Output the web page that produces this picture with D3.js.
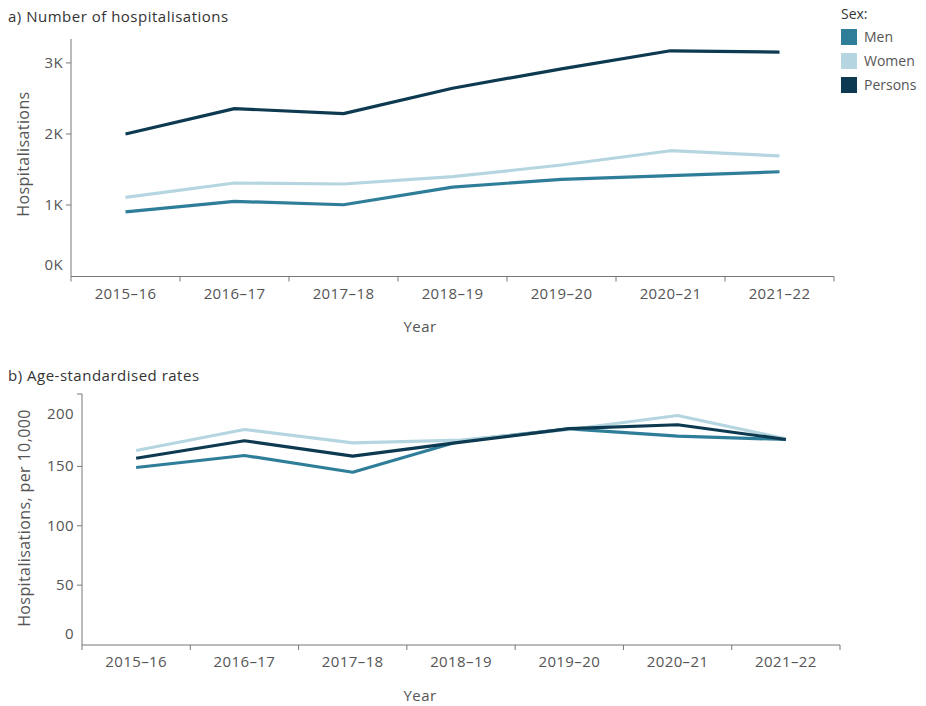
<!DOCTYPE html>
<html>
<head>
<meta charset="utf-8">
<script src="https://cdn.jsdelivr.net/npm/d3@7"></script>
<style>
  body { margin: 0; background: #fff; font-family: "Open Sans", sans-serif; }
  .axis text { font-family: "Open Sans", sans-serif; font-size: 15px; fill: #555; letter-spacing: 0.4px; }
  .axis path, .axis line { stroke: #777; }
</style>
</head>
<body>
<div id="chart"></div>
<script>
const years = ["2015–16", "2016–17", "2017–18", "2018–19", "2019–20", "2020–21", "2021–22"];
const sexes = ["Men", "Women", "Persons"];
const colors = ["#2f7e99", "#b5d6e0", "#0d3a51"];

// a) Number of hospitalisations
const countMen = [897, 1044, 996, 1245, 1354, 1405, 1461];
const countWomen = [1100, 1302, 1288, 1391, 1556, 1757, 1683];
const countPersons = [1993, 2350, 2279, 2637, 2910, 3164, 3145];

// b) Age-standardised rates per 10,000
const rateMen = [148.7, 158.8, 144.7, 171.2, 181.3, 175.1, 172.3];
const rateWomen = [163.0, 180.7, 169.5, 171.7, 180.7, 192.5, 172.9];
const ratePersons = [156.5, 171.2, 158.2, 170.0, 181.5, 184.7, 172.3];

const countTicks = [0, 1000, 2000, 3000];
const rateTicks = [0, 50, 100, 150, 200];

const width = 926, height = 706;
const svg = d3.select("#chart").append("svg")
  .attr("width", width).attr("height", height);

function drawPanel(opts) {
  const g = svg.append("g");
  const x = d3.scaleBand().domain(years).range([opts.x0, opts.x1]);
  const y = d3.scaleLinear().domain(opts.domain).range([opts.yBottom, opts.yTop]);

  // title
  g.append("text")
    .attr("x", 8).attr("y", opts.titleY)
    .style("font-size", "15px").style("fill", "#333").style("letter-spacing", "0.5px")
    .text(opts.title);

  // x axis: labels at centres, ticks at band boundaries
  const xAxis = g.append("g").attr("class", "axis")
    .attr("transform", `translate(0,${opts.yBottom + 1})`)
    .call(d3.axisBottom(x).tickSize(0).tickPadding(opts.xPad));
  xAxis.select(".domain").attr("d", `M${opts.x0},0H${opts.x1}`);
  const bounds = years.map(d => x(d)).concat([opts.x1]);
  xAxis.selectAll(".bound").data(bounds).join("line")
    .attr("class", "bound")
    .attr("x1", d => d).attr("x2", d => d)
    .attr("y1", 0).attr("y2", 5);

  // y axis
  const yAxis = g.append("g").attr("class", "axis")
    .attr("transform", `translate(${opts.x0},0)`)
    .call(d3.axisLeft(y).tickValues(opts.tickWithMark).tickFormat(opts.fmt).tickSize(5).tickPadding(3));
  yAxis.select(".domain").attr("d", `M0,${opts.yTop}V${opts.yBottom + 1}`);
  // end labels without marks, nudged inside
  opts.noMark.forEach(t => {
    yAxis.append("text")
      .attr("x", -8)
      .attr("y", y(t.v) + t.dy)
      .attr("dy", "0.32em")
      .attr("text-anchor", "end")
      .text(opts.fmt(t.v));
  });
  if (opts.topMark) {
    yAxis.append("line").attr("x1", -5).attr("x2", 0)
      .attr("y1", opts.yTop).attr("y2", opts.yTop);
  }

  // axis titles
  g.append("text")
    .attr("transform", `translate(${opts.yTitleX},${opts.yTitleY}) rotate(-90)`)
    .attr("text-anchor", "middle")
    .style("font-size", "16px").style("fill", "#555").style("letter-spacing", "0.4px")
    .text(opts.yTitle);
  g.append("text")
    .attr("x", 420).attr("y", opts.xTitleY)
    .attr("text-anchor", "middle")
    .style("font-size", "15px").style("fill", "#555").style("letter-spacing", "0.4px")
    .text("Year");

  // lines
  const line = d3.line()
    .x((d, i) => x(years[i]) + x.bandwidth() / 2)
    .y(d => y(d));
  opts.series.forEach((s, i) => {
    g.append("path")
      .datum(s)
      .attr("fill", "none")
      .attr("stroke", colors[i])
      .attr("stroke-width", 3.2)
      .attr("stroke-linejoin", "round")
      .attr("d", line);
  });
}

drawPanel({
  title: "a) Number of hospitalisations", titleY: 22,
  x0: 71, x1: 834, yTop: 39, yBottom: 275.5,
  domain: [0, 3330],
  tickWithMark: countTicks.slice(1),
  noMark: [{ v: countTicks[0], dy: -10 }],
  fmt: d => d / 1000 + "K",
  xPad: 12,
  yTitle: "Hospitalisations", yTitleX: 29, yTitleY: 154,
  xTitleY: 332,
  series: [countMen, countWomen, countPersons]
});

drawPanel({
  title: "b) Age-standardised rates", titleY: 381,
  x0: 82, x1: 840, yTop: 394, yBottom: 644,
  domain: [0, 210.6],
  tickWithMark: rateTicks.slice(1, -1),
  noMark: [{ v: rateTicks[0], dy: -10 }, { v: rateTicks[4], dy: 8 }],
  fmt: d => d,
  topMark: true,
  xPad: 11,
  yTitle: "Hospitalisations, per 10,000", yTitleX: 30, yTitleY: 518,
  xTitleY: 701,
  series: [rateMen, rateWomen, ratePersons]
});

// legend
const legend = svg.append("g").attr("transform", "translate(841,0)");
legend.append("text").attr("x", 0).attr("y", 19)
  .style("font-size", "14px").style("fill", "#333").text("Sex:");
sexes.forEach((s, i) => {
  legend.append("rect")
    .attr("x", 0).attr("y", 29 + i * 24)
    .attr("width", 16).attr("height", 16)
    .attr("fill", colors[i]);
  legend.append("text")
    .attr("x", 23).attr("y", 37 + i * 24).attr("dy", "0.35em")
    .style("font-size", "14px").style("fill", "#555")
    .text(s);
});
</script>
</body>
</html>
